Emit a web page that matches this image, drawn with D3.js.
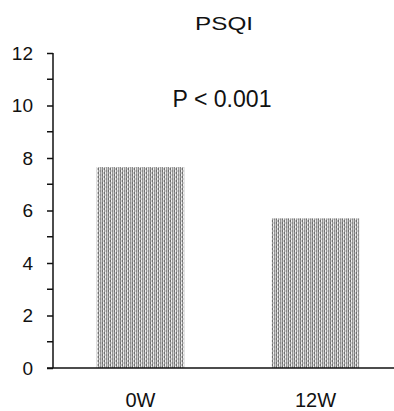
<!DOCTYPE html>
<html>
<head>
<meta charset="utf-8">
<script src="https://cdn.jsdelivr.net/npm/d3@7"></script>
<style>
  body { margin: 0; background: #fff; }
  text { font-family: "Liberation Sans", Arial, sans-serif; }
</style>
</head>
<body>
<div id="chart"></div>
<script>
// data
const groups = ["0W", "12W"];
const psqi = [7.65, 5.7];
const majorTicks = [0, 2, 4, 6, 8, 10, 12];
const minorTicks = [1, 3, 5, 7, 9, 11];

const W = 394, H = 411;

const svg = d3.select("#chart")
  .append("svg")
    .attr("width", W)
    .attr("height", H);

// stippled grey fill for the bars
const defs = svg.append("defs");
const pat = defs.append("pattern")
  .attr("id", "dots")
  .attr("patternUnits", "userSpaceOnUse")
  .attr("width", 6)
  .attr("height", 4);
pat.append("rect").attr("width", 6).attr("height", 4).attr("fill", "#e4e4e4");
const cols = ["#8a8a8a", "#c8c8c8", "#6f6f6f", "#f2f2f2", "#9a9a9a", "#d0d0d0"];
cols.forEach(function(c, i) {
  pat.append("rect").attr("x", i).attr("y", 0).attr("width", 1).attr("height", 2).attr("fill", c);
  pat.append("rect").attr("x", i).attr("y", 2).attr("width", 1).attr("height", 2)
    .attr("fill", cols[(i + 2) % cols.length]);
});

const x = d3.scaleBand()
  .domain(groups)
  .range([53, 403])
  .paddingInner(0.5)
  .paddingOuter(0.25);

const y = d3.scaleLinear()
  .domain([0, 12])
  .range([368, 53]);

// bars
svg.selectAll(".bar")
  .data(groups)
  .join("rect")
    .attr("class", "bar")
    .attr("x", function(d) { return x(d); })
    .attr("width", x.bandwidth())
    .attr("y", function(d, i) { return y(psqi[i]); })
    .attr("height", function(d, i) { return y(0) - y(psqi[i]); })
    .attr("fill", "url(#dots)");

// y axis
const yAxis = svg.append("g")
  .attr("transform", "translate(53,0)")
  .call(d3.axisLeft(y).tickValues(majorTicks).tickSize(6).tickPadding(14));
yAxis.selectAll("text").style("font-size", "19px").attr("fill", "#111");
yAxis.selectAll("line, path").attr("stroke", "#111").attr("stroke-width", 1.5);
yAxis.select(".domain").attr("d", "M0," + y(12) + "V" + y(0));

svg.append("g")
  .selectAll("line")
  .data(minorTicks)
  .join("line")
    .attr("x1", 47).attr("x2", 53)
    .attr("y1", function(d) { return y(d); })
    .attr("y2", function(d) { return y(d); })
    .attr("stroke", "#111")
    .attr("stroke-width", 1.5);

// x axis
const xAxis = svg.append("g")
  .attr("transform", "translate(0," + y(0) + ")")
  .call(d3.axisBottom(x).tickSize(0).tickPadding(25));
xAxis.select(".domain").attr("d", "M47,0H394").attr("stroke", "#111").attr("stroke-width", 1.5);
xAxis.selectAll("text").style("font-size", "20px").attr("fill", "#111");

// title and annotation
svg.append("text")
  .attr("x", 224).attr("y", 30)
  .attr("text-anchor", "middle")
  .attr("textLength", 58)
  .attr("lengthAdjust", "spacingAndGlyphs")
  .style("font-size", "19px")
  .attr("fill", "#111")
  .text("PSQI");

svg.append("text")
  .attr("x", 222).attr("y", 107)
  .attr("text-anchor", "middle")
  .attr("textLength", 99)
  .attr("lengthAdjust", "spacingAndGlyphs")
  .style("font-size", "23px")
  .attr("fill", "#111")
  .text("P < 0.001");
</script>
</body>
</html>
